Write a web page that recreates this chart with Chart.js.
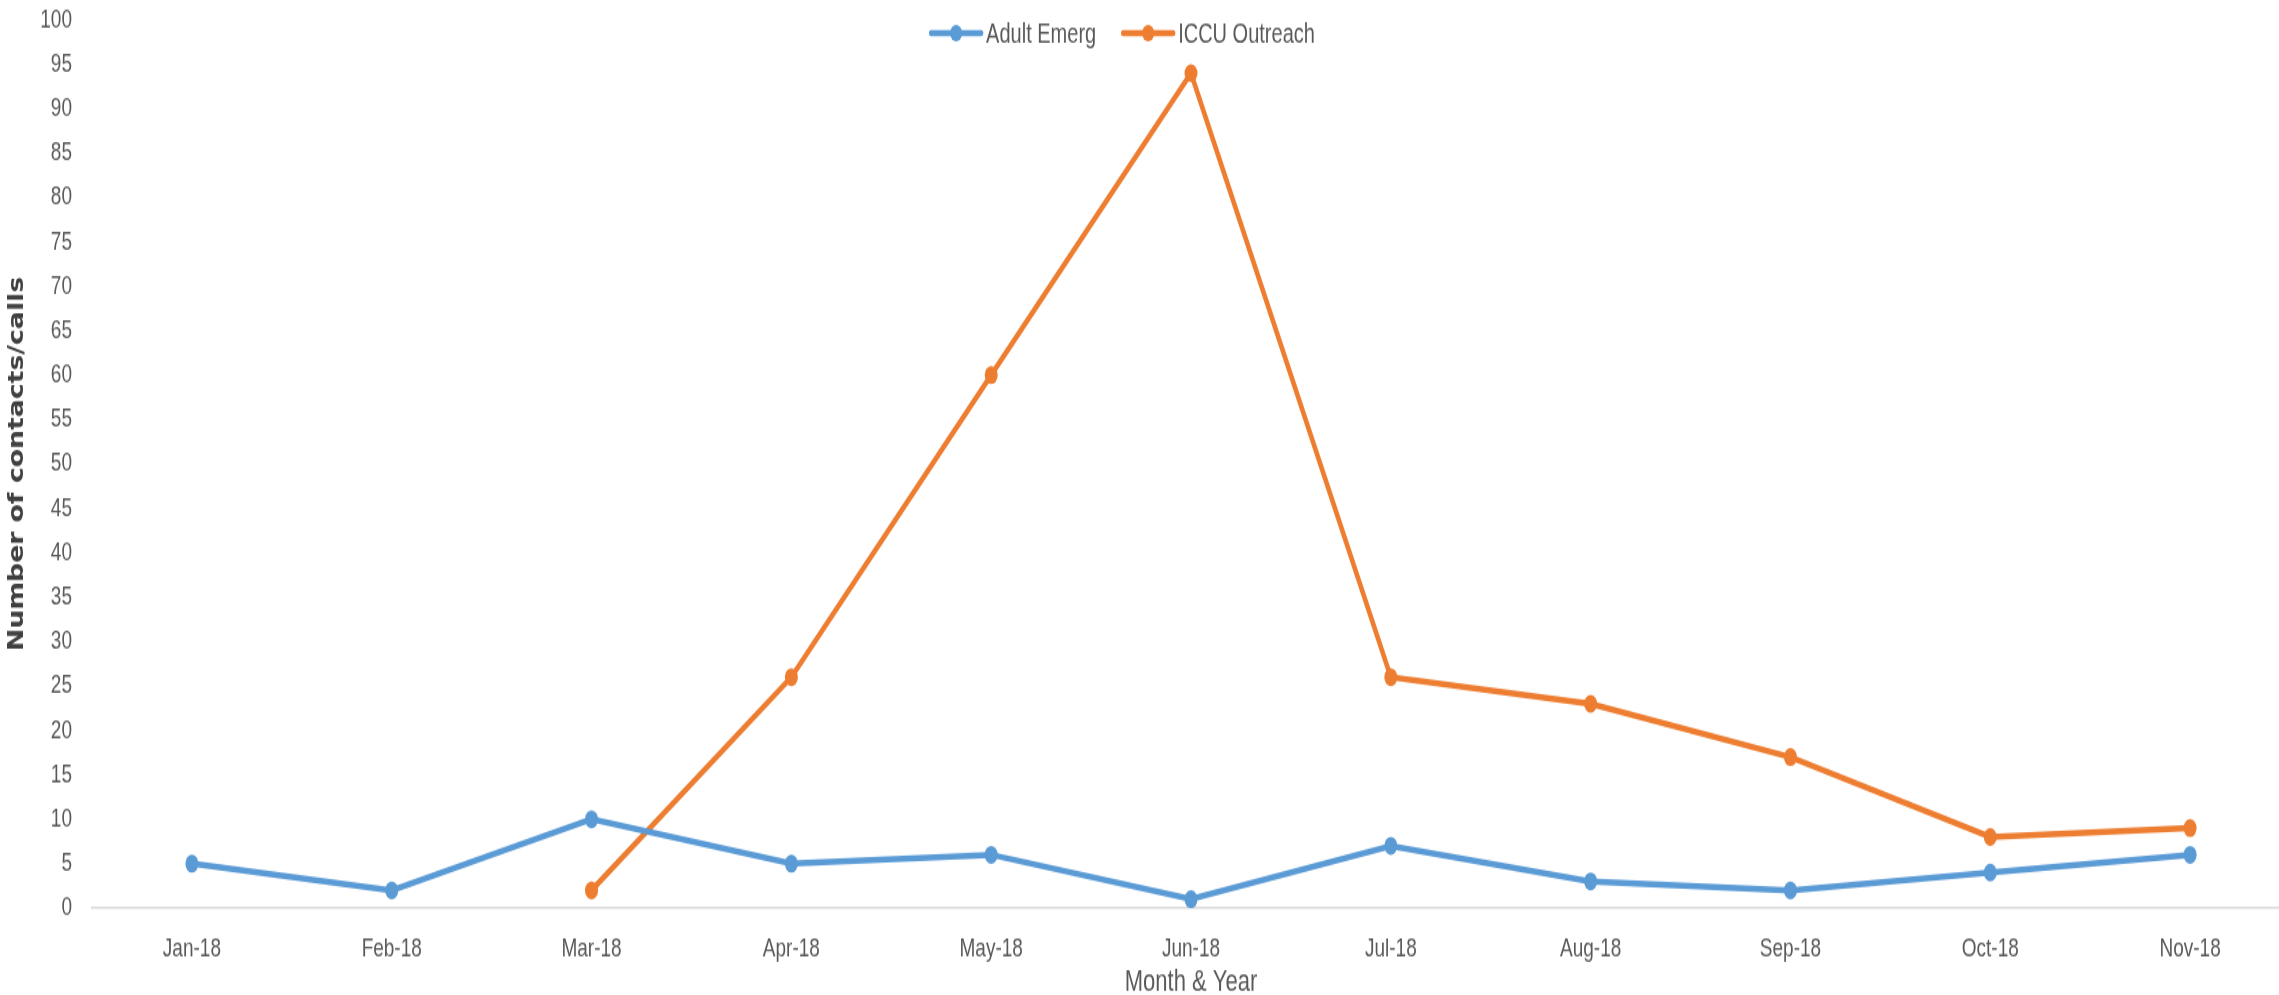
<!DOCTYPE html>
<html>
<head>
<meta charset="utf-8">
<script src="https://cdn.jsdelivr.net/npm/chart.js@4/dist/chart.umd.min.js"></script>
<style>
  html, body { margin: 0; padding: 0; background: #ffffff; overflow: hidden; width: 2279px; height: 995px; }
  #wrap {
    position: absolute; left: 0; top: 0;
    width: 2290px; height: 721px;
    transform: scaleY(1.38); transform-origin: 0 0;
  }
  canvas { display: block; }
</style>
</head>
<body>
<div id="wrap"><canvas id="chart" width="2290" height="721"></canvas></div>
<script>
// Monthly contacts/calls, Jan–Nov 2018
const months = ['Jan-18', 'Feb-18', 'Mar-18', 'Apr-18', 'May-18', 'Jun-18',
                'Jul-18', 'Aug-18', 'Sep-18', 'Oct-18', 'Nov-18'];
const adultEmerg = [5, 2, 10, 5, 6, 1, 7, 3, 2, 4, 6];
const iccuOutreach = [null, null, 2, 26, 60, 94, 26, 23, 17, 8, 9];
const seriesNames = ['Adult Emerg', 'ICCU Outreach'];
const yTicks = [0, 5, 10, 15, 20, 25, 30, 35, 40, 45, 50, 55, 60, 65, 70, 75, 80, 85, 90, 95, 100];

const BLUE = '#5B9BD5';
const ORANGE = '#ED7D31';
const TEXT = '#595959';
const FONT = "'Liberation Sans', Arial, sans-serif";

// Legend drawn centred near the top of the plot: a short line with a dot, then the name
const lineLegend = {
  id: 'lineLegend',
  afterDraw(chart) {
    const ctx = chart.ctx;
    const sets = chart.data.datasets;
    const markW = 50, gapText = 5, gapItem = 27, cy = 24;
    ctx.save();
    ctx.font = '20px ' + FONT;
    const widths = sets.map(d => markW + gapText + ctx.measureText(d.label).width);
    const total = widths.reduce((a, b) => a + b, 0) + gapItem * (sets.length - 1);
    let x = 1123 - total / 2;
    sets.forEach((d, i) => {
      ctx.strokeStyle = d.borderColor;
      ctx.lineWidth = 4.5;
      ctx.lineCap = 'round';
      ctx.beginPath();
      ctx.moveTo(x, cy);
      ctx.lineTo(x + markW, cy);
      ctx.stroke();
      ctx.fillStyle = d.borderColor;
      ctx.beginPath();
      ctx.arc(x + markW / 2, cy, 6, 0, Math.PI * 2);
      ctx.fill();
      ctx.fillStyle = TEXT;
      ctx.textAlign = 'left';
      ctx.textBaseline = 'middle';
      ctx.fillText(d.label, x + markW + gapText, cy + 1);
      x += widths[i] + gapItem;
    });
    ctx.restore();
  }
};

new Chart(document.getElementById('chart'), {
  type: 'line',
  data: {
    labels: months,
    datasets: [
      {
        label: seriesNames[0],
        data: adultEmerg,
        borderColor: BLUE,
        backgroundColor: BLUE,
        borderWidth: 4.5,
        pointRadius: 6.5,
        pointHoverRadius: 6.5,
        pointBackgroundColor: BLUE,
        pointBorderWidth: 0,
        tension: 0
      },
      {
        label: seriesNames[1],
        data: iccuOutreach,
        borderColor: ORANGE,
        backgroundColor: ORANGE,
        borderWidth: 4.5,
        pointRadius: 6.5,
        pointHoverRadius: 6.5,
        pointBackgroundColor: ORANGE,
        pointBorderWidth: 0,
        tension: 0,
        spanGaps: false
      }
    ]
  },
  options: {
    responsive: false,
    animation: false,
    devicePixelRatio: 1,
    layout: { autoPadding: false, padding: 0 },
    plugins: {
      legend: { display: false },
      tooltip: { enabled: false }
    },
    scales: {
      x: {
        type: 'category',
        offset: true,
        grid: { display: false, drawTicks: false },
        border: { display: true, color: '#d9d9d9', width: 1.5 },
        ticks: {
          color: TEXT,
          font: { family: FONT, size: 19 },
          padding: 18,
          maxRotation: 0,
          autoSkip: false
        },
        title: {
          display: true,
          text: 'Month & Year',
          color: TEXT,
          font: { family: FONT, size: 22, lineHeight: 0.8 },
          padding: 0
        },
        afterFit(scale) { scale.height = 63; }
      },
      y: {
        min: 0,
        max: 100,
        grid: { display: true, drawOnChartArea: false, drawTicks: true, tickLength: 17, color: 'rgba(0,0,0,0)' },
        border: { display: false },
        afterBuildTicks(scale) { scale.ticks = yTicks.map(v => ({ value: v })); },
        ticks: {
          color: TEXT,
          font: { family: FONT, size: 19 },
          padding: 3
        },
        title: {
          display: true,
          text: 'Number of contacts/calls',
          color: '#404040',
          font: { family: "'Liberation Sans Narrow', 'DejaVu Sans Condensed', sans-serif", size: 21.5, weight: 'bold', lineHeight: 1.2 },
          padding: { top: 5, bottom: 0 }
        },
        afterFit(scale) { scale.width = 92; }
      }
    }
  },
  plugins: [lineLegend]
});
</script>
</body>
</html>
